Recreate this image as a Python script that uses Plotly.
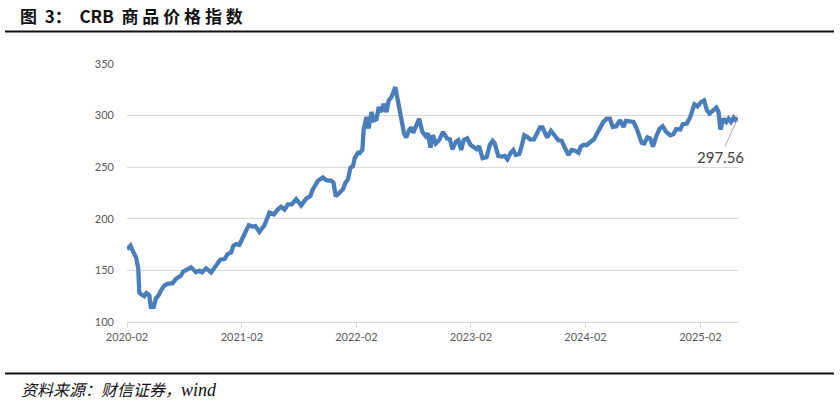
import plotly.graph_objects as go

dates = [
    "2020-02-01", "2020-02-12", "2020-02-19", "2020-03-01", "2020-03-08", "2020-03-11", "2020-03-16",
    "2020-03-27", "2020-04-03", "2020-04-12", "2020-04-17", "2020-04-26", "2020-05-03", "2020-05-12",
    "2020-05-19", "2020-05-30", "2020-06-09", "2020-06-25", "2020-07-06", "2020-07-22", "2020-07-29",
    "2020-08-12", "2020-08-23", "2020-09-08", "2020-09-19", "2020-09-27", "2020-10-10", "2020-10-26",
    "2020-11-11", "2020-11-24", "2020-12-08", "2020-12-18", "2020-12-29", "2021-01-05", "2021-01-14",
    "2021-01-24", "2021-02-02", "2021-02-15", "2021-02-23", "2021-03-06", "2021-03-16", "2021-03-29",
    "2021-04-14", "2021-04-30", "2021-05-14", "2021-05-27", "2021-06-06", "2021-06-17", "2021-06-28",
    "2021-07-10", "2021-07-24", "2021-08-09", "2021-08-25", "2021-09-07", "2021-09-15", "2021-10-01",
    "2021-10-17", "2021-10-28", "2021-11-13", "2021-11-20", "2021-11-27", "2021-12-10", "2021-12-20",
    "2021-12-28", "2022-01-05", "2022-01-13", "2022-01-21", "2022-01-27", "2022-02-06", "2022-02-11",
    "2022-02-20", "2022-02-24", "2022-03-05", "2022-03-12", "2022-03-21", "2022-03-29", "2022-04-06",
    "2022-04-13", "2022-04-22", "2022-04-29", "2022-05-08", "2022-05-15", "2022-05-24", "2022-06-05",
    "2022-06-14", "2022-06-24", "2022-07-03", "2022-07-10", "2022-07-19", "2022-07-26", "2022-08-01",
    "2022-08-11", "2022-08-20", "2022-08-30", "2022-09-10", "2022-09-17", "2022-09-25", "2022-10-03",
    "2022-10-12", "2022-10-23", "2022-11-04", "2022-11-17", "2022-11-26", "2022-12-04", "2022-12-15",
    "2022-12-23", "2023-01-01", "2023-01-09", "2023-01-20", "2023-01-31", "2023-02-10", "2023-02-19",
    "2023-02-27", "2023-03-10", "2023-03-23", "2023-04-02", "2023-04-11", "2023-04-18", "2023-04-29",
    "2023-05-10", "2023-05-20", "2023-05-28", "2023-06-07", "2023-06-16", "2023-06-24", "2023-07-05",
    "2023-07-12", "2023-07-21", "2023-07-30", "2023-08-08", "2023-08-21", "2023-08-30", "2023-09-09",
    "2023-09-17", "2023-09-25", "2023-10-02", "2023-10-14", "2023-10-21", "2023-10-30", "2023-11-06",
    "2023-11-17", "2023-11-28", "2023-12-08", "2023-12-19", "2023-12-30", "2024-01-10", "2024-01-17",
    "2024-01-25", "2024-02-05", "2024-02-18", "2024-02-28", "2024-03-10", "2024-03-18", "2024-03-29",
    "2024-04-09", "2024-04-19", "2024-04-28", "2024-05-09", "2024-05-21", "2024-06-01", "2024-06-09",
    "2024-06-22", "2024-07-03", "2024-07-13", "2024-07-21", "2024-07-29", "2024-08-06", "2024-08-16",
    "2024-08-25", "2024-09-03", "2024-09-13", "2024-09-24", "2024-10-04", "2024-10-15", "2024-10-28",
    "2024-11-07", "2024-11-16", "2024-11-29", "2024-12-07", "2024-12-20", "2024-12-31", "2025-01-13",
    "2025-01-23", "2025-02-03", "2025-02-13", "2025-02-22", "2025-03-02", "2025-03-13", "2025-03-24",
    "2025-03-31", "2025-04-06", "2025-04-16", "2025-04-25", "2025-05-02", "2025-05-10", "2025-05-18",
    "2025-05-24", "2025-06-01",
]

crb_index = [
    170.5, 174.0, 169.0, 162.6, 151.4, 129.0, 127.0,
    125.0, 128.0, 126.0, 114.6, 114.6, 122.7, 126.0,
    130.5, 135.3, 137.0, 137.6, 141.8, 145.0, 148.9,
    151.4, 153.0, 148.2, 149.8, 148.2, 152.0, 148.0,
    154.6, 160.4, 161.0, 165.9, 167.5, 174.0, 175.5,
    174.6, 180.4, 190.0, 193.8, 192.5, 193.0, 187.3,
    193.7, 206.0, 204.3, 209.2, 211.7, 209.0, 214.0,
    214.0, 219.0, 213.0, 219.5, 222.0, 228.5, 236.6,
    240.0, 237.5, 236.8, 235.0, 222.0, 225.5, 228.5,
    235.0, 238.2, 249.4, 251.0, 259.0, 264.0, 263.5,
    266.7, 286.0, 298.7, 287.5, 303.5, 295.5, 296.5,
    308.3, 303.5, 311.5, 303.5, 314.7, 318.0, 327.6,
    314.7, 295.5, 282.7, 278.8, 286.0, 288.5, 283.3,
    290.7, 297.0, 284.3, 280.0, 282.7, 268.9, 281.0,
    273.0, 276.3, 284.3, 277.9, 277.0, 267.3, 274.7,
    276.3, 266.7, 276.3, 277.9, 271.5, 269.9, 267.6,
    270.5, 258.7, 259.6, 271.5, 275.6, 273.0, 261.0,
    260.3, 261.0, 257.7, 263.5, 266.7, 261.9, 262.8,
    269.9, 281.0, 279.5, 277.0, 277.0, 283.3, 288.5,
    288.5, 284.3, 278.8, 285.3, 282.7, 277.9, 276.3,
    275.6, 268.3, 261.9, 266.7, 266.0, 264.0, 269.9,
    271.5, 271.5, 274.7, 277.0, 283.3, 287.5, 293.9,
    297.0, 297.0, 289.0, 289.7, 295.5, 289.0, 294.9,
    293.9, 293.9, 287.5, 281.0, 273.7, 273.0, 278.8,
    277.9, 269.9, 279.5, 287.2, 289.7, 284.3, 281.0,
    282.0, 286.9, 286.5, 291.7, 292.3, 298.7, 310.9,
    309.0, 313.1, 314.7, 305.1, 301.9, 305.1, 307.7,
    303.5, 286.5, 297.0, 293.9, 297.0, 293.9, 298.0,
    295.5, 297.56,
]

tick_vals = ["2020-02-01", "2021-02-01", "2022-02-01", "2023-02-01", "2024-02-01", "2025-02-01"]
tick_text = ["2020-02", "2021-02", "2022-02", "2023-02", "2024-02", "2025-02"]
y_ticks = [100, 150, 200, 250, 300, 350]

title_chars = ["图", "3：", "CRB", "商", "品", "价", "格", "指", "数"]
source_cn = "资料来源：财信证券，"
source_en = "wind"
last_label = "297.56"

W, H = 840, 405
L, R, T, B = 127, 102, 64, 83
PW, PH = W - L - R, H - T - B


def px(x):
    return (x - L) / PW


def py(y):
    return (H - B - y) / PH


SP = "\u00a0"
title_html = "<b>" + (SP * 2).join(title_chars[:3]) + SP * 2 + SP.join(title_chars[3:]) + "</b>"
source_html = ("<i>" + source_cn
               + "<span style=\"font-family:'Liberation Serif', serif; font-size:18px\">"
               + source_en + "</span></i>")

fig = go.Figure()
fig.add_trace(go.Scatter(
    x=dates, y=crb_index, mode="lines",
    line=dict(color="#4A7EBB", width=4.3, shape="linear"),
    hoverinfo="x+y", showlegend=False,
))

fig.update_layout(
    width=W, height=H,
    margin=dict(l=L, r=R, t=T, b=B),
    paper_bgcolor="white", plot_bgcolor="white",
    font=dict(family="Lato, 'Liberation Sans', sans-serif", size=11, color="#595959"),
    xaxis=dict(
        type="date", range=["2020-02-01", "2025-06-01"],
        tickvals=tick_vals, ticktext=tick_text,
        showgrid=False, showline=True, linecolor="#D9D9D9", linewidth=1,
        ticks="outside", ticklen=5, tickcolor="#D9D9D9",
        tickfont=dict(size=11, color="#595959"), zeroline=False,
    ),
    yaxis=dict(
        range=[100, 350], tickvals=y_ticks,
        showgrid=True, gridcolor="#D9D9D9", gridwidth=1,
        showline=False, zeroline=False, ticks="",
        ticklabelstandoff=12,
        tickfont=dict(size=11, color="#595959"),
    ),
    shapes=[
        dict(type="line", xref="paper", yref="paper", x0=px(5), x1=px(834), y0=py(31.5), y1=py(31.5),
             line=dict(color="#111111", width=2)),
        dict(type="line", xref="paper", yref="paper", x0=px(5), x1=px(834), y0=py(373.5), y1=py(373.5),
             line=dict(color="#111111", width=2)),
    ],
    annotations=[
        dict(text=title_html, xref="paper", yref="paper", x=px(18), y=py(15),
             xanchor="left", yanchor="middle", showarrow=False,
             font=dict(family="'Noto Sans CJK SC', sans-serif", size=17, color="#111111")),
        dict(text=source_html, xref="paper", yref="paper", x=px(19), y=py(389),
             xanchor="left", yanchor="middle", showarrow=False,
             font=dict(family="'Noto Sans CJK SC', 'Liberation Serif', serif", size=16, color="#111111")),
        dict(text=last_label, x=dates[-1], y=crb_index[-1], xref="x", yref="y",
             showarrow=True, arrowhead=0, arrowwidth=1, arrowcolor="#A6A6A6",
             ax=-18, ay=39, standoff=2,
             font=dict(family="Lato, 'Liberation Sans', sans-serif", size=15, color="#404040")),
    ],
)

fig.write_html("out.html", config={"displayModeBar": False},
               post_script="document.body.style.margin='0';")
